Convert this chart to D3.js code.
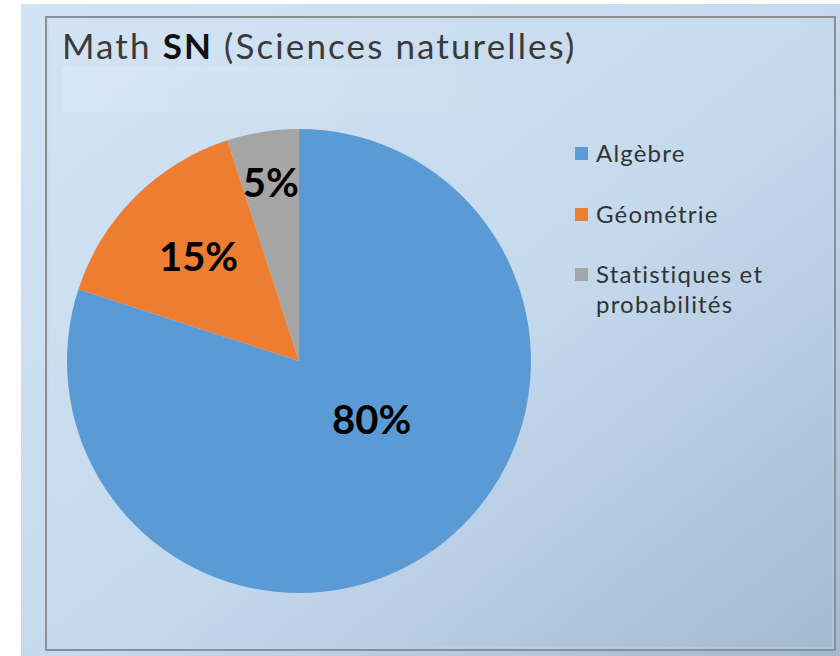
<!DOCTYPE html>
<html>
<head>
<meta charset="utf-8">
<script src="https://cdn.jsdelivr.net/npm/d3@7"></script>
<style>
  html, body { margin: 0; padding: 0; background: #ffffff; }
  svg { display: block; }
</style>
</head>
<body>
<svg id="chart" width="840" height="656"></svg>
<script>
// ---- data ----
const categories = ["Algèbre", "Géométrie", "Statistiques et probabilités"];
const legendLines = [["Algèbre"], ["Géométrie"], ["Statistiques et", "probabilités"]];
const values = [80, 15, 5];
const labels = ["80%", "15%", "5%"];
const colors = ["#5b9bd5", "#ed7d31", "#a5a5a5"];
const titleParts = [
  { text: "Math ", bold: false },
  { text: "SN", bold: true },
  { text: " (Sciences naturelles)", bold: false }
];

const W = 840, H = 656;
const svg = d3.select("#chart");
const defs = svg.append("defs");

const bg = defs.append("linearGradient").attr("id", "bg")
  .attr("x1", "0").attr("y1", "0").attr("x2", "1").attr("y2", "1");
bg.append("stop").attr("offset", "0").attr("stop-color", "#d3e4f4");
bg.append("stop").attr("offset", "0.55").attr("stop-color", "#c5d9ed");
bg.append("stop").attr("offset", "1").attr("stop-color", "#a2b9d2");

const hl = defs.append("linearGradient").attr("id", "hl")
  .attr("x1", "0").attr("y1", "0").attr("x2", "1").attr("y2", "0");
hl.append("stop").attr("offset", "0").attr("stop-color", "#ffffff").attr("stop-opacity", 0.14);
hl.append("stop").attr("offset", "0.6").attr("stop-color", "#ffffff").attr("stop-opacity", 0.08);
hl.append("stop").attr("offset", "1").attr("stop-color", "#ffffff").attr("stop-opacity", 0);

// background
svg.append("rect").attr("x", 21).attr("y", 4).attr("width", W - 21).attr("height", H - 4)
  .attr("fill", "url(#bg)");

// chart frame
svg.append("rect").attr("x", 46).attr("y", 17).attr("width", 789).attr("height", 633)
  .attr("fill", "none").attr("stroke", "#8b9096").attr("stroke-width", 2);
svg.append("rect").attr("x", 48).attr("y", 19).attr("width", 785).attr("height", 629)
  .attr("fill", "none").attr("stroke", "#c9d6e2").attr("stroke-width", 1).attr("opacity", 0.6);

// highlight box under title
svg.append("rect").attr("x", 61).attr("y", 66).attr("width", 460).attr("height", 46)
  .attr("fill", "url(#hl)");

// title
const title = svg.append("text").attr("x", 62).attr("y", 59)
  .attr("font-family", "Lato, 'Open Sans', sans-serif").attr("font-size", 35)
  .attr("fill", "#3a3a3a").attr("letter-spacing", 2.1);
title.selectAll("tspan").data(titleParts).join("tspan")
  .attr("font-weight", d => d.bold ? 700 : 400)
  .attr("fill", d => d.bold ? "#111" : "#3a3a3a")
  .style("white-space", "pre")
  .text(d => d.text);

// pie
const cx = 299, cy = 361, r = 232;
const pie = d3.pie().sort(null).value(d => d)(values);
const arc = d3.arc().innerRadius(0).outerRadius(r);
const g = svg.append("g").attr("transform", `translate(${cx},${cy})`);
g.selectAll("path").data(pie).join("path")
  .attr("d", arc)
  .attr("fill", (d, i) => colors[i]);

// label placement factors (fraction of radius, angle shift in radians)
const labelRadius = [0.40, 0.625, 0.78];
const labelShift = [-0.27, 0.02, 0];
g.selectAll("text.lbl").data(pie).join("text")
  .attr("class", "lbl")
  .attr("transform", (d, i) => {
    const a = (d.startAngle + d.endAngle) / 2 + labelShift[i];
    const rr = r * labelRadius[i];
    return `translate(${Math.sin(a) * rr},${-Math.cos(a) * rr})`;
  })
  .attr("text-anchor", "middle").attr("dominant-baseline", "central")
  .attr("font-family", "Lato, 'Open Sans', sans-serif").attr("font-weight", 700)
  .attr("font-size", 40).attr("fill", "#000")
  .text((d, i) => labels[i]);

// legend
const legY = [154, 215, 275];
const leg = svg.append("g");
const items = leg.selectAll("g").data(categories).join("g")
  .attr("transform", (d, i) => `translate(575,${legY[i]})`);
items.append("rect").attr("x", 0).attr("y", -7).attr("width", 13).attr("height", 13)
  .attr("fill", (d, i) => colors[i]);
items.append("text")
  .attr("font-family", "Lato, 'Open Sans', sans-serif").attr("font-size", 24)
  .attr("fill", "#333333").attr("letter-spacing", 1.2)
  .selectAll("tspan").data((d, i) => legendLines[i]).join("tspan")
  .attr("x", 21).attr("y", (d, j) => 8 + j * 30)
  .text(d => d);
</script>
</body>
</html>
